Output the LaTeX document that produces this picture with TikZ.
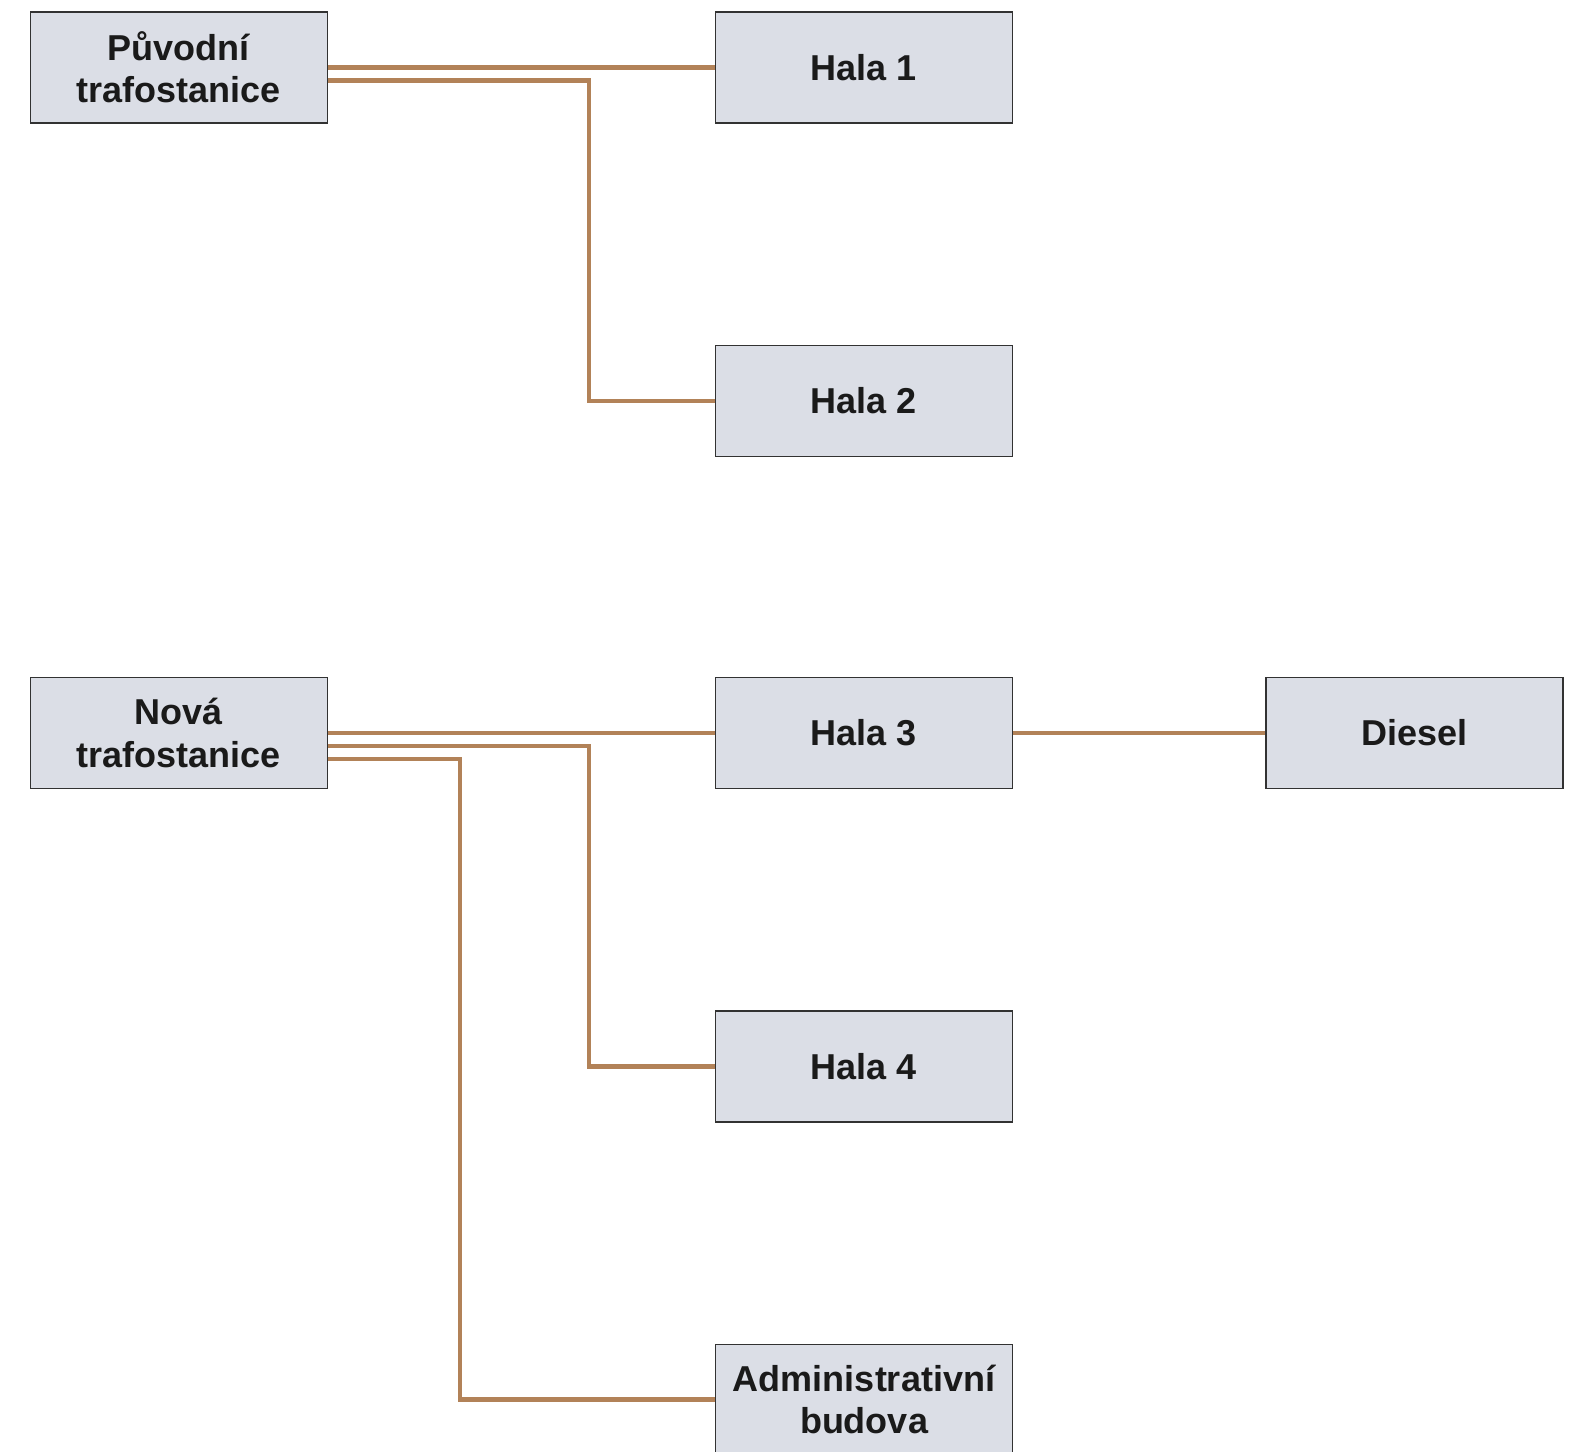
\documentclass[tikz,border=0pt]{standalone}
\usepackage{fontspec}
\setmainfont{Liberation Sans}
\definecolor{boxfill}{RGB}{219,222,230}
\definecolor{boxline}{RGB}{50,50,50}
\definecolor{wire}{RGB}{178,130,88}
\definecolor{txt}{RGB}{26,26,26}
\tikzset{
  blk/.style={draw=boxline, line width=1.3pt, fill=boxfill, minimum width=297pt, minimum height=111pt,
    inner sep=0pt, align=center, text=txt, font=\fontsize{36}{42.3}\selectfont\bfseries},
  wire/.style={draw=wire, line width=4.6pt}
}
\begin{document}
\begin{tikzpicture}[x=1pt,y=-1pt]
\useasboundingbox (0,0) rectangle (1579,1451);
\clip (0,0) rectangle (1579,1451);
\fill[white] (0,0) rectangle (1579,1451);
% wires first
\coordinate (j1) at (589,400.8);
\coordinate (j2) at (589,1066.4);
\coordinate (j3) at (460,1399.7);
\node[blk] (p)  at (178.75,67.5) {Původní\\trafostanice};
\node[blk] (h1) at (864,67.5) {Hala 1};
\node[blk] (h2) at (864,400.8) {Hala 2};
\node[blk] (n)  at (178.75,733.1) {Nová\\trafostanice};
\node[blk] (h3) at (864,733.1) {Hala 3};
\node[blk] (d)  at (1414.4,733.1) {Diesel};
\node[blk] (h4) at (864,1066.4) {Hala 4};
\node[blk] (ad) at (864,1399.7) {Administrativní\\budova};
\draw[wire] (p.east) -- (h1.west);
\draw[wire] ([yshift=-13pt]p.east) -| (j1) -- (h2.west);
\draw[wire] (n.east) -- (h3.west);
\draw[wire] (h3.east) -- (d.west);
\draw[wire] ([yshift=-13pt]n.east) -| (j2) -- (h4.west);
\draw[wire] ([yshift=-26pt]n.east) -| (j3) -- (ad.west);
\end{tikzpicture}
\end{document}
